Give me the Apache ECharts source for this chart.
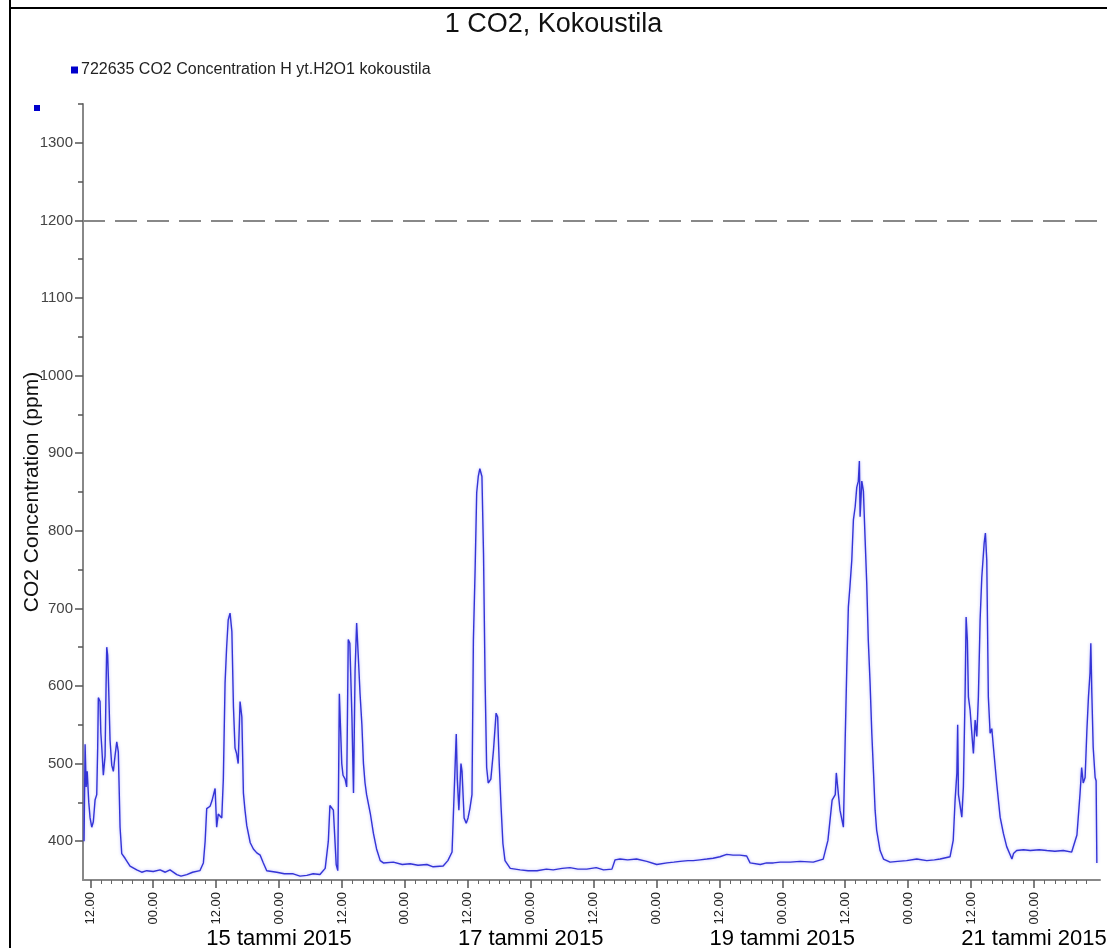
<!DOCTYPE html>
<html><head><meta charset="utf-8">
<script src="https://cdn.jsdelivr.net/npm/echarts@6/dist/echarts.min.js"></script>
<style>html,body{margin:0;padding:0;background:#fff}#c{width:1107px;height:948px}</style>
</head><body><div id="c"></div>
<script>
// Hours since 13 Jan 2015 00:00
const hours = [10.8,11.0,11.2,11.4,11.7,11.95,12.27,12.57,12.9,13.22,13.4,13.53,13.85,14.0,14.18,14.48,14.81,15.0,15.13,15.3,15.44,15.76,16.08,16.39,16.71,17.04,17.34,17.67,17.99,18.62,19.57,20.85,21.8,22.76,24,25.3,26.3,27.2,28.5,29.3,30.4,31.5,32.9,33.56,33.9,34.2,34.84,35.2,35.47,35.8,36.1,36.4,37.07,37.37,37.7,38.0,38.3,38.65,39.0,39.3,39.6,39.9,40.2,40.56,40.9,41.2,41.5,41.84,42.5,43.1,43.75,44.4,45.0,45.65,47.56,49,50.7,52,53.3,54.5,55.8,56.8,57.4,57.7,58.36,58.9,59.2,59.5,59.96,60.2,60.6,60.9,61.2,61.5,61.9,62.2,62.5,62.8,63.1,63.45,63.8,64.1,64.4,64.7,65.4,66.0,66.6,67.3,67.9,69.8,71.5,73.0,74.5,76.2,77.4,79.3,80.2,81.0,81.6,81.8,82.0,82.3,82.7,82.9,83.3,83.7,84.05,84.4,84.8,85.07,85.4,85.7,86.0,86.3,86.7,87.0,87.3,87.6,87.9,88.4,88.9,89.4,89.7,90.0,90.35,90.7,91.1,92.1,94.0,95.5,97.2,99,100.3,102,103.5,105,106.7,108.5,109.9,111.5,112.1,113.05,114.5,116.2,118.15,120.05,122.0,123.3,124.5,126,127.0,128.3,129.6,130.8,132.1,133.4,134.6,135.9,137.2,137.85,139.8,141,142.3,143.6,145.5,147.4,149.9,151.8,152.7,153.5,154.1,154.3,154.5,155.0,155.65,156.0,156.3,156.6,156.9,157.25,157.56,157.9,158.2,158.5,158.7,158.84,159.16,159.47,159.8,160.1,160.4,160.74,161.07,161.4,161.7,162.0,162.65,163.3,164.56,166,167.7,169.65,171.56,173,174.1,176.0,176.6,176.96,177.3,177.45,177.6,178.24,178.54,178.87,179.06,179.3,179.5,179.82,180.15,180.45,180.78,181.1,181.4,181.73,182.05,182.5,182.74,183.0,183.3,183.64,183.96,184.27,184.9,185.55,186.17,186.8,187.8,188.1,188.7,190,191.3,193,194.45,196,197.6,199.2,200.2,200.8,201.1,201.4,201.76,202.1,202.4,202.7,202.85,203.04,203.3,203.67,203.86,204.0];
const co2 = [400,525,470,490,450,430,418,425,453,460,520,585,580,540,521,485,510,600,650,640,611,530,498,490,510,528,515,418,384,378,368,363,360,362,361,363,360,363,357,355,357,360,362,372,400,442,445,452,450,468,418,435,430,480,604,650,685,694,670,573,520,513,500,580,560,462,440,420,398,390,385,382,372,362,360,358,358,355,356,358,357,365,400,446,440,370,362,590,500,485,480,470,660,655,560,462,620,681,640,590,550,500,475,460,436,410,390,375,372,373,370,371,369,370,367,368,375,386,500,538,480,440,500,490,430,423,430,442,460,659,750,849,870,880,870,771,607,495,475,480,517,565,560,500,444,397,375,365,363,362,362,364,363,365,366,364,364,366,363,364,376,377,376,377,374,370,372,373,374,375,375,376,377,378,380,383,382,382,381,372,370,372,372,373,373,374,373,377,401,453,460,488,474,440,418,533,624,702,728,762,814,831,856,864,890,818,864,851,788,733,659,604,539,488,440,414,388,377,373,374,375,377,375,376,377,380,401,453,488,550,460,431,470,591,689,659,586,569,539,513,556,535,586,685,740,784,797,762,586,539,545,521,474,431,410,393,377,384,388,389,388,389,388,387,388,386,408,462,495,475,482,543,586,617,655,591,521,482,478,372];
const majorTickHours = [12,24,36,48,60,72,84,96,108,120,132,144,156,168,180,192];
const dateLabelHours = [48,96,144,192];
const dateLabels = ['15 tammi 2015','17 tammi 2015','19 tammi 2015','21 tammi 2015'];
const yTickValues = [400,500,600,700,800,900,1000,1100,1200,1300];
const yMinorValues = [450,550,650,750,850,950,1050,1150,1250,1350];
const threshold = 1200;
const seriesName = '722635 CO2 Concentration H yt.H2O1 kokoustila';

const minorTickHours = [];
for (let h = 12; h <= 204; h += 2) { if (h % 12 !== 0) minorTickHours.push(h); }

const data = hours.map((h, i) => [h, co2[i]]);
const FONT = 'Liberation Sans, Arial, sans-serif';
const xMin = 10.6, xMax = 204.6;

const chart = echarts.init(document.getElementById('c'), null, {renderer: 'canvas'});
chart.setOption({
  animation: false,
  backgroundColor: '#fff',
  title: {text: '1 CO2, Kokoustila', left: 'center', top: 6,
    textStyle: {fontFamily: FONT, fontSize: 27, fontWeight: 'normal', color: '#111'}},
  legend: {left: 66, top: 57, icon: 'rect', itemWidth: 7, itemHeight: 7, itemGap: 10,
    textStyle: {fontFamily: FONT, fontSize: 16, color: '#222', padding: [0, 0, 0, -2]}},
  grid: {left: 83, right: 7, top: 104, bottom: 68, containLabel: false, outerBoundsMode: 'none'},
  xAxis: [
    {type: 'value', min: xMin, max: xMax, position: 'bottom',
      axisLine: {show: true, lineStyle: {color: '#888', width: 2}},
      axisTick: {show: true, customValues: majorTickHours, length: 8, lineStyle: {color: '#555', width: 1.5}},
      axisLabel: {show: true, customValues: majorTickHours, rotate: 90, margin: 12,
        fontFamily: FONT, fontSize: 13, color: '#222',
        formatter: v => (Math.round(v) % 24 === 12 ? '12.00' : '00.00')},
      splitLine: {show: false}},
    {type: 'value', min: xMin, max: xMax, position: 'bottom', offset: 0,
      axisLine: {show: false},
      axisTick: {show: true, customValues: minorTickHours, length: 4, lineStyle: {color: '#666', width: 1}},
      axisLabel: {show: false}, splitLine: {show: false}},
    {type: 'value', min: xMin, max: xMax, position: 'bottom', offset: 0,
      axisLine: {show: false}, axisTick: {show: false},
      axisLabel: {show: true, customValues: dateLabelHours, margin: 48,
        fontFamily: FONT, fontSize: 22, color: '#000',
        formatter: v => dateLabels[dateLabelHours.indexOf(Math.round(v))] || ''},
      splitLine: {show: false}}
  ],
  yAxis: [
    {type: 'value', min: 350, max: 1350, position: 'left',
      name: 'CO2 Concentration (ppm)', nameLocation: 'middle', nameGap: 40, nameRotate: 90,
      nameMoveOverlap: false,
      nameTextStyle: {fontFamily: FONT, fontSize: 21, color: '#111'},
      axisLine: {show: true, lineStyle: {color: '#888', width: 2}},
      axisTick: {show: true, customValues: yTickValues, length: 8, lineStyle: {color: '#555', width: 1.5}},
      axisLabel: {show: true, customValues: yTickValues, margin: 10, fontFamily: FONT, fontSize: 15, color: '#444',
        formatter: v => String(Math.round(v))},
      splitLine: {show: false}},
    {type: 'value', min: 350, max: 1350, position: 'left', offset: 0,
      axisLine: {show: false},
      axisTick: {show: true, customValues: yMinorValues, length: 5, lineStyle: {color: '#555', width: 1.5}},
      axisLabel: {show: false}, splitLine: {show: false}}
  ],
  series: [{
    name: seriesName, type: 'line', data: data, xAxisIndex: 0, yAxisIndex: 0,
    showSymbol: false, symbol: 'none', sampling: null,
    itemStyle: {color: '#0000cc'},
    lineStyle: {color: '#3434d6', width: 1.4, shadowBlur: 3, shadowColor: 'rgba(90,90,255,0.45)'},
    markLine: {silent: true, symbol: ['none', 'none'], label: {show: false},
      lineStyle: {color: '#888', width: 2, type: [22, 10]},
      data: [{yAxis: threshold}]}
  }],
  graphic: [
    {type: 'line', shape: {x1: 10, y1: 0, x2: 10, y2: 948}, style: {stroke: '#000', lineWidth: 2}},
    {type: 'line', shape: {x1: 10, y1: 8, x2: 1107, y2: 8}, style: {stroke: '#000', lineWidth: 2}},
    {type: 'rect', shape: {x: 34, y: 105, width: 6, height: 6}, style: {fill: '#0000cc'}}
  ]
});
</script></body></html>
